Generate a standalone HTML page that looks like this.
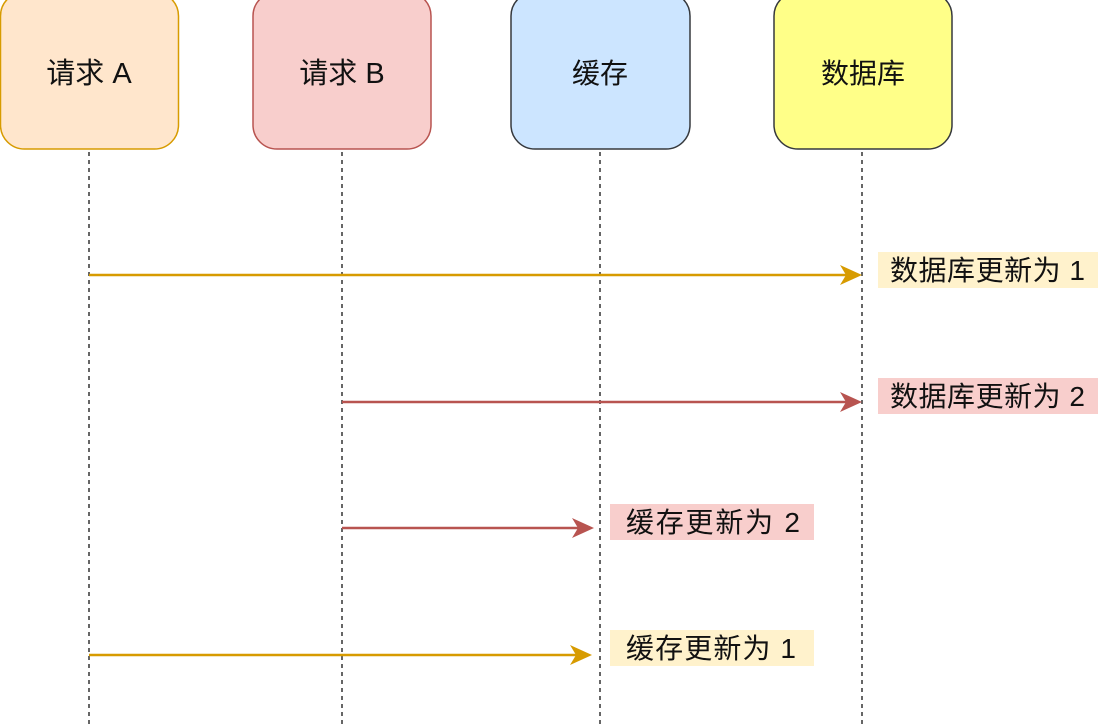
<!DOCTYPE html>
<html><head><meta charset="utf-8"><style>
html,body{margin:0;padding:0;background:#fff;}
svg{display:block;}
text{font-family:"Liberation Sans","Noto Sans CJK SC",sans-serif;font-size:28px;fill:#111;}
</style></head><body>
<svg width="1098" height="726" viewBox="0 0 1098 726" xmlns="http://www.w3.org/2000/svg">
<rect x="0.5" y="-8" width="178" height="157" rx="24" fill="#ffe6cc" stroke="#d79b00" stroke-width="1.5"/>
<rect x="253" y="-8" width="178" height="157" rx="24" fill="#f8cecc" stroke="#b85450" stroke-width="1.5"/>
<rect x="511" y="-8" width="179" height="157" rx="24" fill="#cce5ff" stroke="#36393d" stroke-width="1.5"/>
<rect x="774" y="-8" width="178" height="157" rx="24" fill="#ffff88" stroke="#36393d" stroke-width="1.5"/>
<text x="89" y="83" text-anchor="middle" style="font-size:29px">请求 A</text>
<text x="342" y="83" text-anchor="middle" style="font-size:29px">请求 B</text>
<text x="600" y="83" text-anchor="middle">缓存</text>
<text x="863" y="83" text-anchor="middle">数据库</text>
<g stroke="#333" stroke-width="1.5" stroke-dasharray="4,4">
<line x1="89" y1="152" x2="89" y2="726"/>
<line x1="342" y1="152" x2="342" y2="726"/>
<line x1="600" y1="152" x2="600" y2="726"/>
<line x1="862" y1="152" x2="862" y2="726"/>
</g>
<rect x="878" y="252" width="220" height="36" fill="#fff2cc"/>
<rect x="878" y="378" width="220" height="36" fill="#f8cecc"/>
<rect x="610" y="504" width="204" height="36" fill="#f8cecc"/>
<rect x="610" y="630" width="204" height="36" fill="#fff2cc"/>
<text x="890" y="280" textLength="195">数据库更新为 1</text>
<text x="890" y="406" textLength="195">数据库更新为 2</text>
<text x="626" y="532" textLength="174">缓存更新为 2</text>
<text x="626" y="658" textLength="170">缓存更新为 1</text>
<g stroke-width="2.5" fill="none">
<line x1="89" y1="275" x2="850" y2="275" stroke="#d79b00"/>
<line x1="342" y1="402" x2="850" y2="402" stroke="#b85450"/>
<line x1="342" y1="528" x2="582" y2="528" stroke="#b85450"/>
<line x1="89" y1="655" x2="580" y2="655" stroke="#d79b00"/>
</g>
<polygon points="862,275 840,265 846,275 840,285" fill="#d79b00"/>
<polygon points="862,402 840,392 846,402 840,412" fill="#b85450"/>
<polygon points="594,528 572,518 578,528 572,538" fill="#b85450"/>
<polygon points="592,655 570,645 576,655 570,665" fill="#d79b00"/>
</svg>
</body></html>
